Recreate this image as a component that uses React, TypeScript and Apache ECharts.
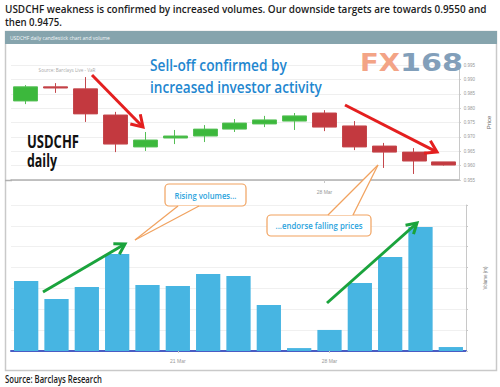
import React, { useEffect, useRef } from "react";
import * as echarts from "echarts";

// ---- data ----
const dates = ["14 Mar", "15 Mar", "16 Mar", "17 Mar", "18 Mar", "21 Mar", "22 Mar", "23 Mar", "24 Mar", "25 Mar", "28 Mar", "29 Mar", "30 Mar", "31 Mar", "1 Apr"];
const opens = [0.9825, 0.9874, 0.9867, 0.9776, 0.9665, 0.9696, 0.9703, 0.9727, 0.9745, 0.9755, 0.9783, 0.9738, 0.9668, 0.9647, 0.9613];
const closes = [0.9874, 0.9870, 0.9780, 0.9675, 0.9689, 0.9703, 0.9727, 0.9748, 0.9759, 0.9773, 0.9734, 0.9665, 0.9647, 0.9616, 0.9602];
const lows = [0.9814, 0.9853, 0.9752, 0.9647, 0.9651, 0.9675, 0.9682, 0.9717, 0.9734, 0.9724, 0.9720, 0.9654, 0.9592, 0.9571, 0.9600];
const highs = [0.9880, 0.9887, 0.9908, 0.9787, 0.9717, 0.9724, 0.9741, 0.9762, 0.9773, 0.9783, 0.9793, 0.9755, 0.9679, 0.9661, 0.9613];
const volumes = [33.6, 24.9, 30.7, 46.5, 31.6, 31.2, 36.9, 36.0, 22.1, 1.4, 10.1, 32.6, 45.1, 59.4, 1.9];
const priceMin = 0.955;
const priceMax = 0.995;
const priceStep = 0.005;
const volMin = 0;
const volMax = 70;
const volStep = 10;
const priceAxisLabelDates = ["28 Mar"];
const volumeAxisLabelDates = ["21 Mar", "28 Mar"];

const titleLine1 = "USDCHF weakness is confirmed by increased volumes. Our downside targets are towards 0.9550 and";
const titleLine2 = "then 0.9475.";
const panelTitle = "USDCHF daily candlestick chart and volume";
const sourceText = "Source: Barclays Research";
const innerSource = "Source: Barclays Live - VaR";

const FONT = "'Open Sans', 'Liberation Sans', sans-serif";

let measureCtx: CanvasRenderingContext2D | null = null;
function measure(text: string, size: number, family: string, weight: string | number) {
  if (!measureCtx) measureCtx = document.createElement("canvas").getContext("2d");
  measureCtx!.font = `${weight} ${size}px ${family}`;
  return measureCtx!.measureText(text).width;
}

function fitText(
  text: string,
  x: number,
  y: number,
  targetW: number,
  size: number,
  fill: string,
  weight: string | number = "normal",
  align: string = "left",
  family: string = FONT
) {
  const w = measure(text, size, family, weight);
  return {
    type: "text",
    x,
    y,
    scaleX: targetW / w,
    z: 100,
    silent: true,
    style: {
      text,
      fontSize: size,
      fontFamily: family,
      fontWeight: weight,
      fill,
      textAlign: align,
      textVerticalAlign: "middle",
    },
  };
}

function arrow(x1: number, y1: number, x2: number, y2: number, color: string, w: number, hl: number, hw: number) {
  const dx = x2 - x1;
  const dy = y2 - y1;
  const L = Math.hypot(dx, dy);
  const ux = dx / L;
  const uy = dy / L;
  const bx = x2 - ux * hl;
  const by = y2 - uy * hl;
  const px = -uy;
  const py = ux;
  return [
    { type: "line", z: 100, silent: true, shape: { x1, y1, x2: x2 - ux * 1.5, y2: y2 - uy * 1.5 }, style: { stroke: color, lineWidth: w } },
    {
      type: "polyline",
      z: 100,
      silent: true,
      shape: { points: [[bx + px * hw, by + py * hw], [x2, y2], [bx - px * hw, by - py * hw]] },
      style: { stroke: color, lineWidth: w, fill: "none", lineJoin: "miter" },
    },
  ];
}

function callout(
  box: { x: number; y: number; w: number; h: number },
  tailA: number[],
  tailB: number[],
  apex: number[],
  text: string,
  textW: number
) {
  const orange = "#f1a25f";
  return [
    { type: "rect", z: 100, silent: true, shape: { x: box.x, y: box.y, width: box.w, height: box.h, r: 4 }, style: { fill: "#fff", stroke: orange, lineWidth: 1.2 } },
    {
      type: "polygon",
      z: 101,
      silent: true,
      shape: { points: [[tailA[0] + 0.6, tailA[1]], apex, [tailB[0] - 0.6, tailB[1]]] },
      style: { fill: "#fff", stroke: "none" },
    },
    { type: "line", z: 102, silent: true, shape: { x1: tailA[0], y1: tailA[1], x2: apex[0], y2: apex[1] }, style: { stroke: orange, lineWidth: 1.2 } },
    { type: "line", z: 102, silent: true, shape: { x1: tailB[0], y1: tailB[1], x2: apex[0], y2: apex[1] }, style: { stroke: orange, lineWidth: 1.2 } },
    { ...fitText(text, box.x + box.w / 2, box.y + box.h / 2, textW, 8.5, "#2aa3dd", 600, "center"), z: 103 },
  ];
}

export default function App() {
  const ref = useRef<HTMLDivElement>(null);

  useEffect(() => {
    if (!ref.current) return;
    const chart = echarts.init(ref.current, undefined, { renderer: "svg" });

    const candleData = dates.map((_, i) => [opens[i], closes[i], lows[i], highs[i]]);

    const graphic: any[] = [
      // panel
      { type: "rect", z: 1, silent: true, shape: { x: 5.5, y: 31.5, width: 491, height: 339 }, style: { fill: "none", stroke: "#c9c9c9", lineWidth: 1.5 } },
      { type: "rect", z: 2, silent: true, shape: { x: 5, y: 31, width: 492, height: 13 }, style: { fill: "#86a4ad" } },
      { type: "line", z: 2, silent: true, shape: { x1: 5, y1: 180.5, x2: 12, y2: 180.5 }, style: { stroke: "#b0b0b0", lineWidth: 1.5 } },
      fitText(panelTitle, 10, 37.5, 100, 5, "#f4f8f9", "normal"),
      // page title & source
      fitText(titleLine1, 5, 8.5, 482, 11, "#1c1c1c", 600),
      fitText(titleLine2, 5, 22, 57, 11, "#1c1c1c", 600),
      fitText(sourceText, 5, 379.5, 97, 10, "#1c1c1c", 600),
      fitText(innerSource, 67, 70, 57, 4.5, "#a8a8a8", "normal", "center"),
      // headline annotation
      fitText("Sell-off confirmed by", 150, 64, 137, 17, "#1f87d0", 600),
      fitText("increased investor activity", 150, 87, 172, 17, "#1f87d0", 600),
      fitText("USDCHF", 27, 141.5, 52, 18, "#111", 700),
      fitText("daily", 27, 160, 30, 18, "#111", 700),
      // watermark
      fitText("FX", 360, 62, 40, 25, "#f3a486", "bold", "left", "'DejaVu Sans', sans-serif"),
      fitText("168", 400, 62, 63, 25, "#829fba", "bold", "left", "'DejaVu Sans', sans-serif"),
      // arrows
      ...arrow(92, 75, 143, 127, "#e41f1f", 3, 11, 7),
      ...arrow(345, 105, 437, 152, "#e41f1f", 3, 11, 7),
      ...arrow(43, 292, 125, 244, "#1aa33c", 3, 10, 6),
      ...arrow(327, 303, 417, 223, "#1aa33c", 3, 10, 6),
      // callouts
      ...callout({ x: 165, y: 184, w: 81, h: 22 }, [178, 206], [199, 206], [135, 240], "Rising volumes...", 62),
      ...callout({ x: 267, y: 215, w: 104, h: 21 }, [328, 215], [353, 215], [378, 165], "...endorse falling prices", 87),
    ];

    chart.setOption({
      animation: false,
      backgroundColor: "#ffffff",
      grid: [
        { left: 11, right: 34, top: 65, height: 115 },
        { left: 11, right: 34, top: 205, height: 146 },
      ],
      xAxis: [
        {
          type: "category",
          gridIndex: 0,
          data: dates,
          boundaryGap: true,
          axisLine: { lineStyle: { color: "#b0b0b0", width: 1.5 } },
          axisTick: {
            show: true,
            alignWithLabel: true,
            interval: (_i: number, v: string) => priceAxisLabelDates.includes(v),
            length: 3,
            lineStyle: { color: "#c8c8c8" },
          },
          axisLabel: {
            interval: (_i: number, v: string) => priceAxisLabelDates.includes(v),
            fontSize: 5,
            color: "#999",
            margin: 9,
          },
          splitLine: { show: false },
        },
        {
          type: "category",
          gridIndex: 1,
          data: dates,
          boundaryGap: true,
          axisLine: { lineStyle: { color: "#4a5cc4", width: 2 } },
          axisTick: {
            show: true,
            alignWithLabel: true,
            interval: (_i: number, v: string) => volumeAxisLabelDates.includes(v),
            length: 2,
            lineStyle: { color: "#c8c8c8" },
          },
          axisLabel: {
            interval: (_i: number, v: string) => volumeAxisLabelDates.includes(v),
            fontSize: 5,
            color: "#999",
            margin: 7,
          },
          splitLine: { show: false },
        },
      ],
      yAxis: [
        {
          type: "value",
          gridIndex: 0,
          position: "right",
          min: priceMin,
          max: priceMax,
          interval: priceStep,
          name: "Price",
          nameLocation: "middle",
          nameGap: 19,
          nameTextStyle: { fontSize: 6, color: "#666" },
          axisLine: { show: true, lineStyle: { color: "#c8c8c8" } },
          axisTick: { show: true, length: 2, lineStyle: { color: "#c8c8c8" } },
          axisLabel: { fontSize: 4.5, color: "#999", margin: 5, formatter: (v: number) => v.toFixed(3) },
          splitLine: { show: true, lineStyle: { color: "#efefef" } },
        },
        {
          type: "value",
          gridIndex: 1,
          position: "right",
          min: volMin,
          max: volMax,
          interval: volStep,
          name: "Volume (m)",
          nameLocation: "middle",
          nameGap: 17,
          nameTextStyle: { fontSize: 4.5, color: "#777" },
          axisLine: { show: true, lineStyle: { color: "#c8c8c8" } },
          axisTick: { show: true, length: 2, lineStyle: { color: "#c8c8c8" } },
          axisLabel: { show: false },
          splitLine: { show: true, lineStyle: { color: "#f0f0f0" } },
        },
      ],
      series: [
        {
          type: "candlestick",
          xAxisIndex: 0,
          yAxisIndex: 0,
          data: candleData,
          barWidth: "82%",
          itemStyle: {
            color: "#3cb83c",
            color0: "#c3393f",
            borderColor: "#55bf55",
            borderColor0: "#c4474c",
            borderWidth: 1,
          },
        },
        {
          type: "bar",
          xAxisIndex: 1,
          yAxisIndex: 1,
          data: volumes,
          barWidth: "80%",
          itemStyle: { color: "#47b5e2" },
        },
      ],
      graphic,
    });

    return () => chart.dispose();
  }, []);

  return <div ref={ref} style={{ position: "absolute", left: 0, top: 0, width: 500, height: 387 }} />;
}
